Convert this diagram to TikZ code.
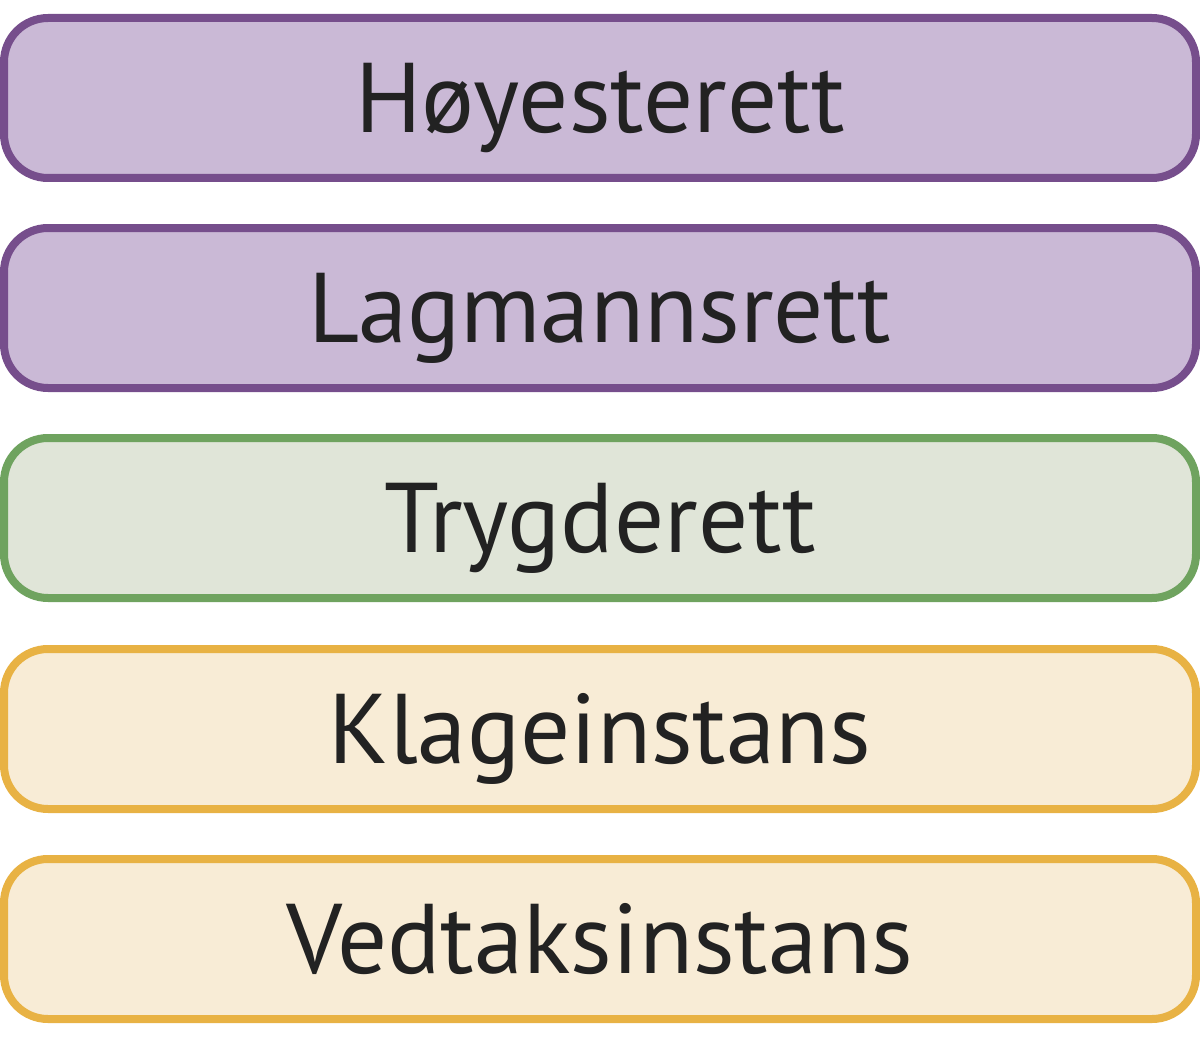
\documentclass[tikz,border=0pt]{standalone}
\usepackage{fontspec}
\setmainfont{PT Sans}
\definecolor{pstroke}{HTML}{764E8C}
\definecolor{pfill}{HTML}{CAB9D6}
\definecolor{gstroke}{HTML}{6FA35F}
\definecolor{gfill}{HTML}{E0E5D8}
\definecolor{ystroke}{HTML}{E8B244}
\definecolor{yfill}{HTML}{F8ECD6}
\definecolor{txt}{HTML}{222222}
\tikzset{
  lvl/.style={rectangle, rounded corners=44pt, line width=8pt, minimum width=1192pt, minimum height=160pt, inner sep=0pt, text height=69pt, text depth=0pt, text=txt, font=\fontsize{99}{99}\selectfont},
  purp/.style={lvl, draw=pstroke, fill=pfill},
  grn/.style={lvl, draw=gstroke, fill=gfill},
  yel/.style={lvl, draw=ystroke, fill=yfill}
}
\begin{document}
\begin{tikzpicture}[x=1pt,y=-1pt]
\useasboundingbox (0,0) rectangle (1200,1038);
\node[purp] (h) at (600,98) {Høyesterett};
\node[purp] (l) at (600,308) {Lagmannsrett};
\node[grn] (t) at (600,518) {Trygderett};
\node[yel] (k) at (600,729) {Klageinstans};
\node[yel] (v) at (600,939) {Vedtaksinstans};
\end{tikzpicture}
\end{document}
